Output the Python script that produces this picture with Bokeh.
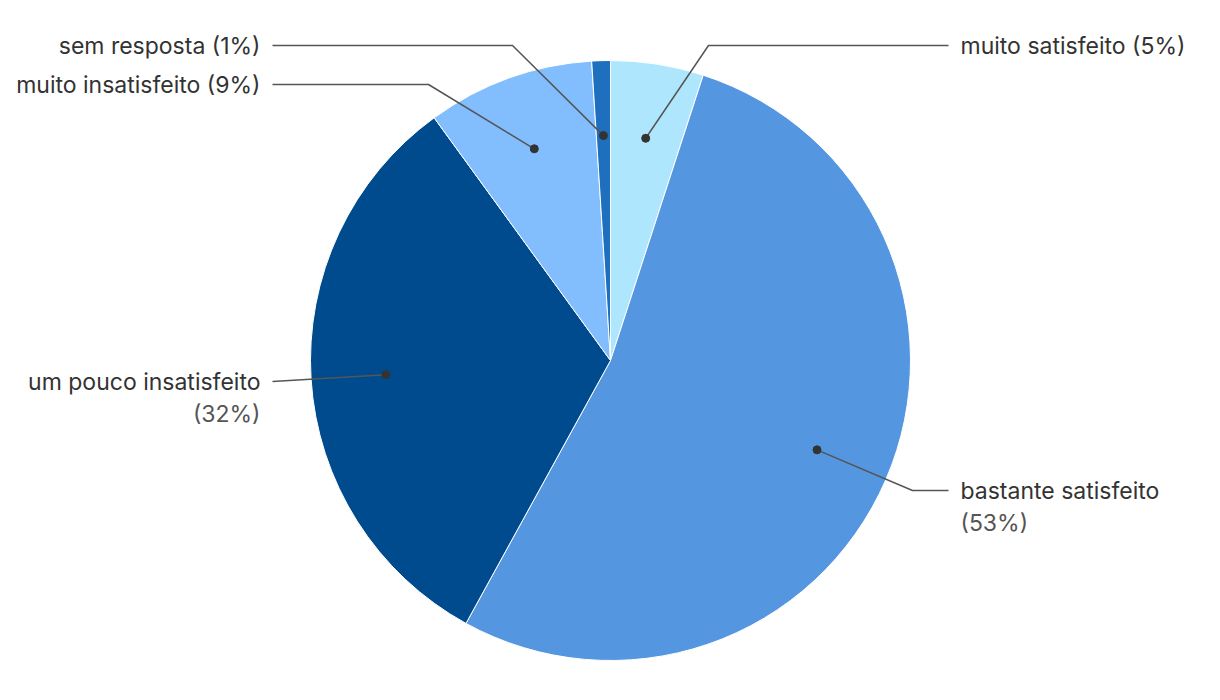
import numpy as np
from bokeh.plotting import figure
from bokeh.models import Range1d, ColumnDataSource
from bokeh.core.properties import value
from bokeh.embed import file_html
from bokeh.resources import INLINE

# ---- data ----
categories = ["muito satisfeito", "bastante satisfeito", "um pouco insatisfeito",
              "muito insatisfeito", "sem resposta"]
values = [5, 53, 32, 9, 1]
colors = ["#aee7fd", "#5596e1", "#004b8d", "#82bdfd", "#1e6fbd"]

# ---- layout (reference pixel space; y is flipped below) ----
W, H = 1220, 700
CX, CY, R = 610, 360, 300
label_y = [45, 490, 381, 84, 45]          # label row (px from top)
elbow_x = [708, 912, 272, 428, 512]       # where leader turns horizontal
side = ["right", "right", "left", "left", "left"]
two_lines = [False, True, True, False, False]
TEXT_RIGHT_X, TEXT_LEFT_X = 960, 260
LINE_RIGHT_END, LINE_LEFT_END = 948, 272
FS = "23px"

def fy(py):
    return H - py

p = figure(width=1204, height=684, output_backend="svg", toolbar_location=None,
           x_range=Range1d(0, 1204), y_range=Range1d(16, 700), min_border=0)
p.axis.visible = False
p.grid.visible = False
p.outline_line_color = None
p.background_fill_color = "white"

total = float(sum(values))
fr = np.array(values) / total
cum_end = np.cumsum(fr)
cum_start = cum_end - fr
start = np.pi / 2 - cum_start * 2 * np.pi
end = np.pi / 2 - cum_end * 2 * np.pi

src = ColumnDataSource(dict(start=start, end=end, color=colors, cat=categories))
p.wedge(x=CX, y=fy(CY), radius=R, start_angle="start", end_angle="end",
        direction="clock", fill_color="color", line_color="white", line_width=1,
        source=src)

font = value("Inter")
mid = (cum_start + cum_end) / 2 * 2 * np.pi  # clockwise from top
for i, cat in enumerate(categories):
    dx = CX + 0.75 * R * np.sin(mid[i])
    dy = CY - 0.75 * R * np.cos(mid[i])
    ly = label_y[i]
    ex = elbow_x[i]
    lend = LINE_RIGHT_END if side[i] == "right" else LINE_LEFT_END
    p.line([dx, ex, lend], [fy(dy), fy(ly), fy(ly)], line_color="#555555", line_width=1.5)
    p.scatter([dx], [fy(dy)], size=8, fill_color="#333333", line_color="#333333")
    pct = f"({values[i] / total * 100:.0f}%)"
    tx = TEXT_RIGHT_X if side[i] == "right" else TEXT_LEFT_X
    align = "left" if side[i] == "right" else "right"
    if two_lines[i]:
        p.text([tx], [fy(ly)], text=[cat], text_align=align, text_baseline="middle",
               text_font=font, text_font_size=FS, text_color="#333333")
        p.text([tx], [fy(ly + 32)], text=[pct], text_align=align, text_baseline="middle",
               text_font=font, text_font_size=FS, text_color="#555555")
    else:
        p.text([tx], [fy(ly)], text=[f"{cat} {pct}"], text_align=align, text_baseline="middle",
               text_font=font, text_font_size=FS, text_color="#333333")

open("out.html", "w").write(file_html(p, INLINE))
